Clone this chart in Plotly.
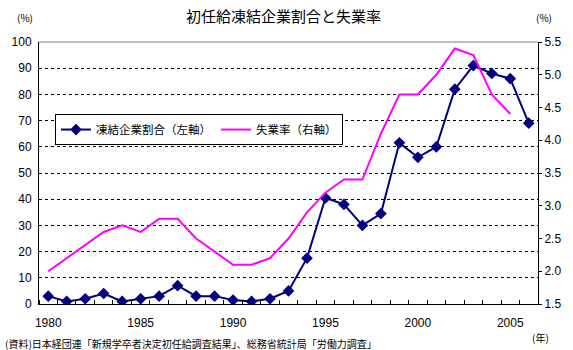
import plotly.graph_objects as go

years = list(range(1980, 2007))
freeze_ratio = [3, 1, 2, 4, 1, 2, 3, 7, 3, 3, 1.5, 1, 2, 5, 17.5,
                40.5, 38, 30, 34.5, 61.5, 56, 60, 82, 91, 88, 86, 69]
unemp_years = list(range(1980, 2006))
unemployment = [2.0, 2.2, 2.4, 2.6, 2.7, 2.6, 2.8, 2.8, 2.5, 2.3, 2.1, 2.1, 2.2,
                2.5, 2.9, 3.2, 3.4, 3.4, 4.1, 4.7, 4.7, 5.0, 5.4, 5.3, 4.7, 4.4]
x_ticks = [1980, 1985, 1990, 1995, 2000, 2005]
left_ticks = list(range(0, 101, 10))
right_ticks = [1.5, 2.0, 2.5, 3.0, 3.5, 4.0, 4.5, 5.0, 5.5]

title = "初任給凍結企業割合と失業率"
name1 = "凍結企業割合（左軸）"
name2 = "失業率（右軸）"
source = "(資料)日本経団連「新規学卒者決定初任給調査結果」、総務省統計局「労働力調査」"

JP = "Noto Sans CJK JP"
NUM = "Liberation Sans, Arial, sans-serif"

fig = go.Figure()
fig.add_trace(go.Scatter(
    x=years, y=freeze_ratio, name=name1, mode="lines+markers",
    line=dict(color="#000080", width=2),
    marker=dict(symbol="diamond", size=9, color="#000080"),
    yaxis="y"))
fig.add_trace(go.Scatter(
    x=unemp_years, y=unemployment, name=name2, mode="lines",
    line=dict(color="#FF00FF", width=2),
    yaxis="y2"))

fig.update_layout(
    width=573, height=350,
    margin=dict(l=39, r=29, t=42, b=46),
    paper_bgcolor="white", plot_bgcolor="white",
    showlegend=True,
    legend=dict(
        orientation="h", x=0.032, y=0.725, xanchor="left", yanchor="top",
        bgcolor="white", bordercolor="black", borderwidth=1,
        font=dict(family=JP, size=11.5, color="black"),
        itemwidth=30, tracegroupgap=0,
    ),
    xaxis=dict(
        range=[1979.5, 2006.5], tickmode="array", tickvals=x_ticks,
        ticktext=[str(v) for v in x_ticks],
        showgrid=False, zeroline=False,
        showline=True, linecolor="black", linewidth=1,
        ticks="", ticklabelstandoff=8,
        tickfont=dict(family=NUM, size=12, color="black"),
        minor=dict(ticks="inside", tick0=1979.5, dtick=1, ticklen=4,
                   tickcolor="black", showgrid=False),
    ),
    yaxis=dict(
        range=[0, 100], tickmode="array", tickvals=left_ticks,
        showgrid=True, gridcolor="black", gridwidth=1, griddash="3px,3px",
        zeroline=False, showline=True, linecolor="black", linewidth=1,
        ticks="", ticklabelstandoff=4,
        tickfont=dict(family=NUM, size=12, color="black"),
    ),
    yaxis2=dict(
        range=[1.5, 5.5], tickmode="array", tickvals=right_ticks,
        ticktext=[f"{v:.1f}" for v in right_ticks],
        overlaying="y", side="right", showgrid=False, zeroline=False,
        showline=True, linecolor="black", linewidth=1,
        ticks="outside", ticklen=3, tickcolor="black",
        tickfont=dict(family=NUM, size=12, color="black"),
    ),
    shapes=[dict(type="line", xref="paper", yref="paper", x0=0, x1=1, y0=1, y1=1,
                 line=dict(color="#808080", width=1))],
    annotations=[
        dict(text=title, xref="paper", yref="paper", x=(286 - 39) / 505, y=1,
             yshift=27, showarrow=False, xanchor="center", yanchor="middle",
             font=dict(family=JP, size=15, color="black")),
        dict(text="(%)", xref="paper", yref="paper", x=(25 - 39) / 505, y=1,
             yshift=25, showarrow=False, xanchor="center", yanchor="middle",
             font=dict(family=JP, size=10, color="black")),
        dict(text="(%)", xref="paper", yref="paper", x=(550 - 39) / 505, y=1,
             yshift=25, showarrow=False, xanchor="center", yanchor="middle",
             font=dict(family=JP, size=10, color="black")),
        dict(text="(年)", xref="paper", yref="paper", x=(547 - 39) / 505, y=0,
             yshift=-33, showarrow=False, xanchor="center", yanchor="middle",
             font=dict(family=JP, size=10, color="black")),
        dict(text=source, xref="paper", yref="paper", x=(3 - 39) / 505, y=0,
             yshift=-39, showarrow=False, xanchor="left", yanchor="middle",
             font=dict(family=JP, size=10, color="black")),
    ],
)

fig.write_html("out.html")
